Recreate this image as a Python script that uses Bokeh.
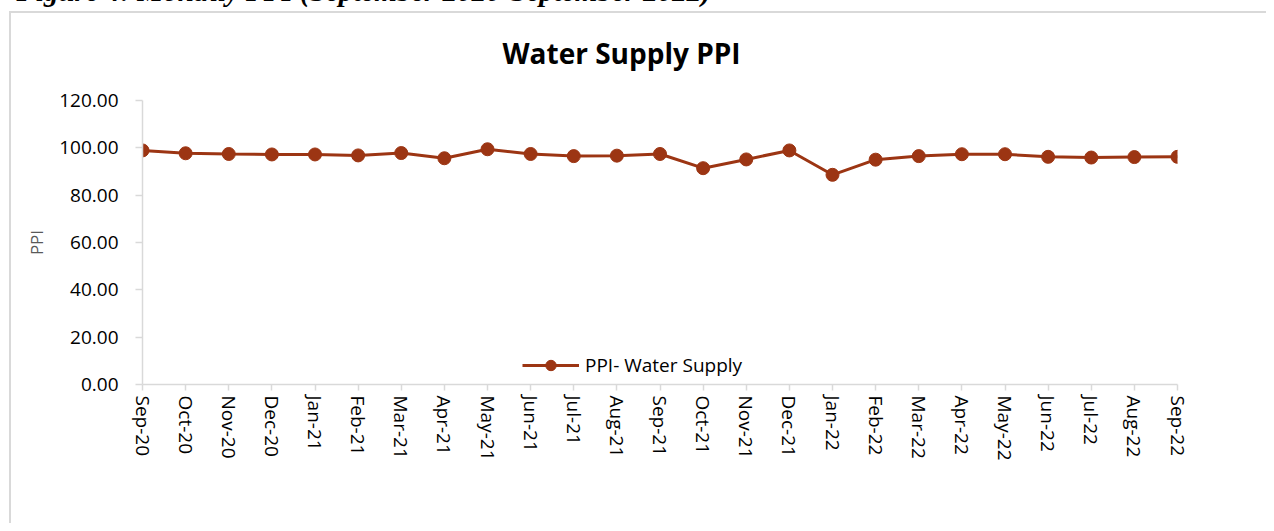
from bokeh.plotting import figure
from bokeh.models import (Range1d, FixedTicker, NumeralTickFormatter, Title,
                          Legend, LegendItem, ColumnDataSource)
from bokeh.embed import file_html
from bokeh.resources import INLINE

months = ["Sep-20", "Oct-20", "Nov-20", "Dec-20", "Jan-21", "Feb-21", "Mar-21",
          "Apr-21", "May-21", "Jun-21", "Jul-21", "Aug-21", "Sep-21", "Oct-21",
          "Nov-21", "Dec-21", "Jan-22", "Feb-22", "Mar-22", "Apr-22", "May-22",
          "Jun-22", "Jul-22", "Aug-22", "Sep-22"]
ppi_water = [98.9, 97.7, 97.4, 97.2, 97.2, 96.8, 97.8, 95.6, 99.4, 97.4, 96.5,
             96.7, 97.4, 91.4, 95.1, 98.9, 88.6, 95.0, 96.5, 97.3, 97.3, 96.2,
             95.9, 96.1, 96.2]
y_ticks = [0, 20, 40, 60, 80, 100, 120]
caption = "Figure 4: Monthly PPI (September 2020-September 2022)"
chart_title = "Water Supply PPI"
series_name = "PPI- Water Supply"

COLOR = "#9C3513"
FONT = "Open Sans"
BOX = "#d9d9d9"

idx = list(range(len(months)))
src = ColumnDataSource(dict(x=idx, y=ppi_water, m=months))

# the figure is shifted up by 40px so that the caption above the chart box is cut
# like in the source image; the chart box lines are painted as CSS background
p = figure(width=1266, height=563, output_backend="svg", toolbar_location=None,
           x_range=Range1d(0, len(months) - 1), y_range=Range1d(0, 120),
           min_border_left=142, min_border_right=89, min_border_top=140,
           min_border_bottom=139, title=None,
           styles={"margin-top": "-40px",
                   "background-image": (f"linear-gradient({BOX},{BOX}), "
                                        f"linear-gradient({BOX},{BOX})"),
                   "background-size": "100% 2px, 2px 100%",
                   "background-position": "9px 51px, 9px 51px",
                   "background-repeat": "no-repeat"})
p.outline_line_color = None
p.grid.visible = False
p.background_fill_color = "white"
p.border_fill_color = None

main_title = Title(text=chart_title, align="left", text_font=FONT,
                   text_font_size="28px", text_font_style="bold",
                   text_color="#000000", offset=360, standoff=58)
p.add_layout(main_title, "above")
cap_title = Title(text=caption, align="left", text_font="Liberation Serif",
                  text_font_size="29px", text_font_style="bold italic",
                  text_color="#000000", offset=-126, standoff=0)
try:
    cap_title.standoff = -8
except ValueError:
    cap_title.standoff = 0
p.add_layout(cap_title, "above")

ln = p.line("x", "y", source=src, line_color=COLOR, line_width=3)
sc = p.scatter("x", "y", source=src, size=13, fill_color=COLOR, line_color=COLOR)

# axes
xa = p.xaxis[0]
xa.ticker = FixedTicker(ticks=idx)
xa.major_label_overrides = {i: m for i, m in zip(idx, months)}
xa.major_label_orientation = "vertical"
xa.major_label_text_font = FONT
xa.major_label_text_font_size = "19px"
xa.major_label_text_color = "#000000"
xa.major_label_standoff = 5
xa.axis_line_color = BOX
xa.axis_line_width = 1.5
xa.major_tick_line_color = BOX
xa.major_tick_line_width = 1.5
xa.major_tick_in = 0
xa.major_tick_out = 6
xa.minor_tick_line_color = None

ya = p.yaxis[0]
ya.ticker = FixedTicker(ticks=y_ticks)
ya.formatter = NumeralTickFormatter(format="0.00")
ya.major_label_text_font = FONT
ya.major_label_text_font_size = "19px"
ya.major_label_text_color = "#000000"
ya.major_label_standoff = 17
ya.axis_line_color = BOX
ya.axis_line_width = 1.5
ya.major_tick_line_color = BOX
ya.major_tick_line_width = 1.5
ya.major_tick_in = 0
ya.major_tick_out = 7
ya.minor_tick_line_color = None
ya.axis_label = "PPI"
ya.axis_label_text_font = FONT
ya.axis_label_text_font_size = "17px"
ya.axis_label_text_font_style = "normal"
ya.axis_label_text_color = "#595959"
ya.axis_label_standoff = 8

# legend kept inside the plot area (annotations outside it are clipped)
legend = Legend(items=[LegendItem(label=series_name, renderers=[ln, sc])],
                location=(380, 6), orientation="horizontal",
                glyph_width=57, glyph_height=26, label_standoff=6,
                label_text_font=FONT, label_text_font_size="19px",
                label_text_color="#000000", padding=0, margin=0,
                border_line_color=None, background_fill_alpha=0)
p.add_layout(legend)

open("out.html", "w").write(file_html(p, INLINE))
